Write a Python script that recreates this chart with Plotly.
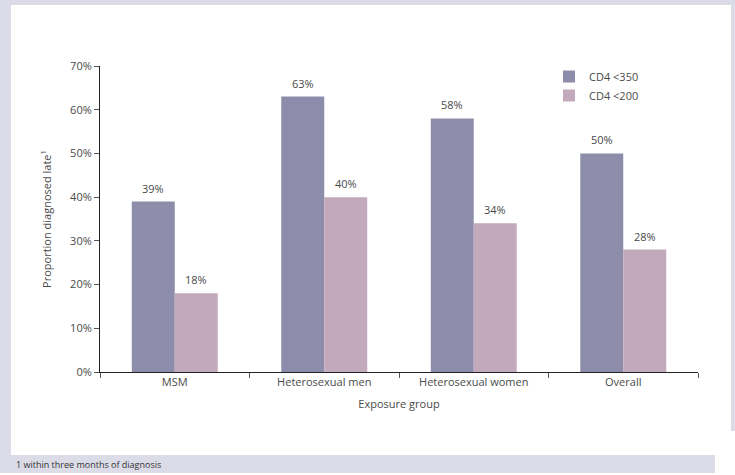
import plotly.graph_objects as go

categories = ["MSM", "Heterosexual men", "Heterosexual women", "Overall"]
cd4_350 = [39, 63, 58, 50]
cd4_200 = [18, 40, 34, 28]
series_names = ["CD4 <350", "CD4 <200"]
y_ticks = [0, 10, 20, 30, 40, 50, 60, 70]
y_ticklabels = [f"{v}%" for v in y_ticks]

W, H = 735, 475
L, R, T, B = 100, 37, 66, 103
pw, ph = W - L - R, H - T - B

def px_x(px):
    return (px - L) / pw

def px_y(py):
    return (H - B - py) / ph

FONT = "Open Sans"
TXT = "#4a4a4a"
LAV = "#dcdce8"
colors = ["#8d8dab", "#c2a9bb"]

fig = go.Figure()
for name, vals, col in zip(series_names, [cd4_350, cd4_200], colors):
    fig.add_trace(go.Bar(x=categories, y=vals, name=name, marker_color=col,
                         marker_line_width=0))

annotations = []
for k, vals in enumerate([cd4_350, cd4_200]):
    for c, v in zip(categories, vals):
        annotations.append(dict(x=c, y=v, xref="x", yref="y", text=f"{v}%",
                                showarrow=False, yanchor="bottom", yshift=4,
                                xshift=(-21.5 if k == 0 else 21.5),
                                font=dict(family=FONT, size=11, color=TXT)))
annotations.append(dict(x=px_x(14), y=px_y(464), xref="paper", yref="paper",
                        text="1 within three months of diagnosis", showarrow=False,
                        xanchor="left", yanchor="middle",
                        font=dict(family=FONT, size=9, color="#333333")))

shapes = []
for x0, y0, x1, y1 in [(0, 0, W, 5), (0, 0, 11, 473), (731, 0, W, 431), (0, 455, 715, 473)]:
    shapes.append(dict(type="rect", xref="paper", yref="paper",
                       x0=px_x(x0), x1=px_x(x1), y0=px_y(y1), y1=px_y(y0),
                       fillcolor=LAV, line_width=0, layer="below"))

fig.update_layout(
    width=W, height=H,
    margin=dict(l=L, r=R, t=T, b=B),
    paper_bgcolor="white", plot_bgcolor="white",
    barmode="group", bargap=0.425, bargroupgap=0,
    font=dict(family=FONT, size=11, color=TXT),
    legend=dict(x=px_x(549), y=px_y(62), xanchor="left", yanchor="top",
                bgcolor="rgba(0,0,0,0)", font=dict(size=11, color=TXT),
                itemwidth=30, tracegroupgap=0),
    annotations=annotations,
    shapes=shapes,
    xaxis=dict(showline=True, linecolor="#222222", linewidth=1,
               ticks="outside", tickson="boundaries", ticklen=5, tickcolor="#555555",
               title=dict(text="Exposure group", standoff=12, font=dict(size=11)),
               tickfont=dict(size=11)),
    yaxis=dict(range=[0, 70], tickvals=y_ticks, ticktext=y_ticklabels,
               showline=True, linecolor="#222222", linewidth=1,
               ticks="outside", ticklen=5, tickcolor="#555555", showgrid=False,
               zeroline=False,
               title=dict(text="Proportion diagnosed late<sup>1</sup>", standoff=16,
                          font=dict(size=11)),
               tickfont=dict(size=11)),
)

fig.write_html("out.html")
